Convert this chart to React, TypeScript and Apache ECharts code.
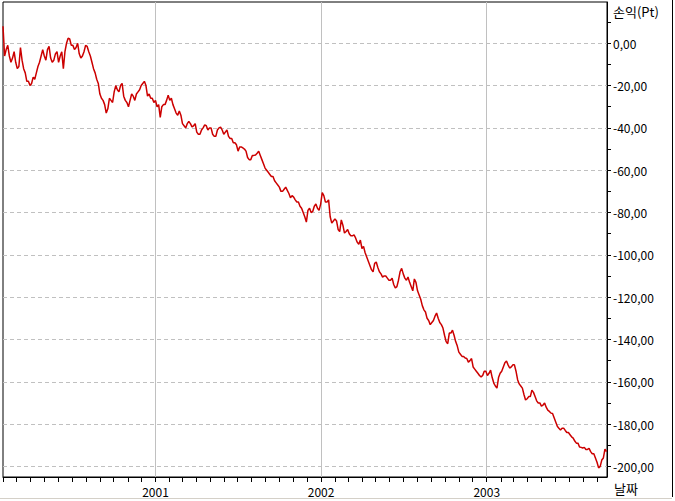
import React, { useEffect, useRef } from "react";
import * as echarts from "echarts";

// Half-week samples (every 3.5 days) starting 2000-01-31
const startDate = "2000-01-31";
const endDate = "2003-09-23";
const stepDays = 3.5;
const profitValues: number[] = [
  8, -6, -3, -1, -6, -9, -7, -4, -9, -12,
  -11, -2, -8, -12, -14, -18, -18, -20, -19, -16,
  -17, -14, -11, -9, -6, -3, -6, -8, -3, -1.5,
  -7, -9, -8, -5, -4, -9, -6, -4, -12, -4,
  0, 2.4, 2, -1, -1, -3, -2, 0, -5, -7,
  -6, -4, -1, -1.5, -4, -6, -9, -12, -14, -17,
  -19, -24, -26, -27, -29, -33, -31, -26, -27, -28,
  -23, -20, -22, -23, -20, -19, -25, -27, -28, -30,
  -27, -24, -25, -27, -24, -23, -22, -20, -19, -18,
  -20, -25, -24, -26, -26, -28, -27, -30, -29, -35,
  -30, -29, -29, -27, -24.5, -27, -26, -29, -31, -33,
  -34, -32, -34, -38, -39, -40, -38, -37, -38, -39.5,
  -39, -38, -42, -43, -43, -41, -40, -38.6, -39, -41,
  -40, -40, -43, -44, -44, -41, -40, -39.6, -41, -43,
  -42, -41, -44, -45, -45, -47, -47, -48, -51, -49,
  -49, -49.5, -50, -51, -54, -55, -55, -53, -53, -52.8,
  -52, -51, -53, -55, -57, -59, -60, -61, -62, -63,
  -63, -65, -66, -67, -68, -70, -70, -69, -68, -69.5,
  -71, -73, -72, -72.7, -74, -75, -75, -77, -78, -80,
  -82, -84.5, -79, -78, -80, -79.5, -77, -76, -78, -79,
  -76, -70.6, -72, -75, -75, -74, -82, -85, -84, -83,
  -84, -88, -89, -83.5, -86, -89.7, -89, -88, -90, -91,
  -91, -90.6, -92, -94, -95, -93, -97, -96, -99, -101,
  -103, -105, -107, -108, -104, -103.4, -106, -108, -109, -110.5,
  -110, -110, -111, -112, -112, -111, -114, -115.7, -115, -112,
  -108, -106.4, -109, -111, -112, -110.5, -113, -115, -117, -111.4,
  -113, -117, -119, -121, -124, -126, -127, -130, -131, -133,
  -132, -131, -129, -127.5, -130, -132, -133, -134.6, -138, -141,
  -142, -137, -137, -135.6, -138, -141, -143, -146, -147, -148,
  -148, -148.8, -149, -150.7, -150, -149, -153, -154, -155, -156,
  -157, -157.7, -157, -155, -155, -157, -156, -154.5, -158, -160.6,
  -162, -163, -158, -156, -155, -153, -151, -150.2, -152, -153.5,
  -153, -152, -152, -155, -159, -161, -162, -163, -166, -168.6,
  -168, -167, -167, -164, -165, -167, -169, -170, -170, -171.5,
  -171, -170, -172, -173.4, -174, -174.8, -175, -177, -179, -181,
  -182, -182.8, -182, -181.9, -183, -184, -184, -185, -186, -186.6,
  -188, -189, -189, -190.8, -191, -191.3, -191, -192, -192, -191.5,
  -193, -194, -194, -196, -198, -200.7, -200, -197, -196, -191.8,
  -193,
];
const yearLabels = ["2001", "2002", "2003"];
const yLabelValues = [-200, -180, -160, -140, -120, -100, -80, -60, -40, -20, 0];
const yTickValues = [
  -200, -190, -180, -170, -160, -150, -140, -130, -120, -110, -100,
  -90, -80, -70, -60, -50, -40, -30, -20, -10, 0, 10,
];
const yAxisName = "손익(Pt)";
const xAxisName = "날짜";

const DAY = 86400000;
const FONT = "'Noto Sans CJK KR', 'Noto Sans', sans-serif";

function parseDate(s: string): number {
  const [y, m, d] = s.split("-").map(Number);
  return Date.UTC(y, m - 1, d);
}

export default function App() {
  const ref = useRef<HTMLDivElement>(null);
  useEffect(() => {
    document.body.style.margin = "0";
    if (!ref.current) return;
    const chart = echarts.init(ref.current, undefined, { renderer: "svg" });
    const t0 = parseDate(startDate);
    const tEnd = parseDate(endDate);
    const seriesData = profitValues.map((v, i) => [t0 + i * stepDays * DAY, v]);
    const yearTicks = yearLabels.map((y) => Date.UTC(Number(y), 0, 1));
    const monthTicks: number[] = [];
    for (let y = 2000; y <= 2003; y++) {
      for (let m = 0; m < 12; m++) {
        const t = Date.UTC(y, m, 1);
        if (t > t0 && t < tEnd) monthTicks.push(t);
      }
    }
    const yMin = -205;
    const yMax = 19.5;
    chart.setOption({
      animation: false,
      backgroundColor: "#ffffff",
      grid: {
        left: 3,
        right: 68,
        top: 2,
        bottom: 24,
        show: true,
        borderColor: "#000000",
        borderWidth: 1,
        backgroundColor: "transparent",
      },
      xAxis: [
        {
          type: "value",
          min: t0,
          max: tEnd,
          position: "bottom",
          axisLine: { show: true, onZero: false, lineStyle: { color: "#000", width: 1 } },
          axisTick: {
            show: true,
            length: 5,
            customValues: monthTicks,
            lineStyle: { color: "#000", width: 1 },
          },
          axisLabel: {
            show: true,
            customValues: yearTicks,
            margin: 8,
            color: "#000",
            fontSize: 12,
            fontFamily: FONT,
            formatter: (v: number) => String(new Date(v).getUTCFullYear()),
          },
          splitLine: { show: false },
        },
        {
          type: "value",
          min: t0,
          max: tEnd,
          position: "bottom",
          axisLine: { show: false, onZero: false },
          axisTick: { show: false, customValues: yearTicks },
          axisLabel: { show: false },
          splitLine: { show: true, lineStyle: { color: "#c0c0c0", width: 1, type: "solid" } },
        },
      ],
      yAxis: [
        {
          type: "value",
          min: yMin,
          max: yMax,
          position: "right",
          axisLine: { show: true, onZero: false, lineStyle: { color: "#000", width: 1 } },
          axisTick: {
            show: true,
            length: 4,
            customValues: yTickValues,
            lineStyle: { color: "#000", width: 1 },
          },
          axisLabel: {
            show: true,
            customValues: yLabelValues,
            margin: 6,
            color: "#000",
            fontSize: 12,
            fontFamily: FONT,
            formatter: (v: number) => (v < 0 ? "-" : "") + Math.abs(v).toFixed(2).replace(".", ","),
          },
          splitLine: { show: false },
        },
        {
          type: "value",
          min: yMin,
          max: yMax,
          position: "right",
          splitNumber: 11,
          axisLine: { show: false, onZero: false },
          axisTick: { show: false, customValues: yLabelValues },
          axisLabel: { show: false },
          splitLine: {
            show: true,
            lineStyle: { color: "#c0c0c0", width: 1, type: [4, 3] },
          },
        },
      ],
      series: [
        {
          type: "line",
          name: yAxisName,
          xAxisIndex: 0,
          yAxisIndex: 0,
          data: seriesData,
          showSymbol: false,
          symbol: "none",
          lineStyle: { color: "#cc0000", width: 1.5 },
          z: 5,
        },
      ],
      graphic: [
        {
          type: "text",
          left: 613,
          top: 5,
          style: { text: yAxisName, fill: "#000", fontSize: 13, fontFamily: FONT },
        },
        {
          type: "text",
          left: 614,
          top: 482,
          style: { text: xAxisName, fill: "#000", fontSize: 13, fontFamily: FONT },
        },
        {
          type: "line",
          shape: { x1: 672.5, y1: 0, x2: 672.5, y2: 497 },
          style: { stroke: "#000", lineWidth: 1 },
        },
        {
          type: "line",
          shape: { x1: 0, y1: 498.5, x2: 672, y2: 498.5 },
          style: { stroke: "#d4d0c8", lineWidth: 1 },
        },
      ],
    });
    return () => chart.dispose();
  }, []);
  return <div ref={ref} style={{ width: 675, height: 501 }} />;
}
